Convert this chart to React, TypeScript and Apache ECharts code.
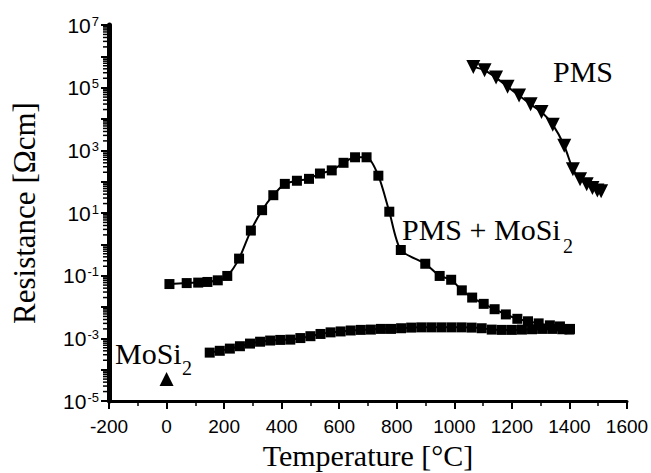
import React, { useEffect, useRef } from "react";
import * as echarts from "echarts";

// ---- data ----
const mixTemp = [10, 70, 110, 142, 178, 211, 252, 293, 332, 371, 411, 453, 495, 533, 574, 615, 655, 695, 736, 774, 814, 899, 949, 989, 1026, 1062, 1102, 1140, 1179, 1219, 1256, 1293, 1332, 1367, 1402];
const mixRes = [0.054, 0.058, 0.06, 0.063, 0.071, 0.098, 0.35, 2.75, 12.3, 37, 85, 107, 123, 182, 229, 400, 600, 600, 155, 11, 0.66, 0.24, 0.098, 0.074, 0.034, 0.02, 0.0126, 0.0085, 0.0058, 0.0042, 0.0035, 0.003, 0.0026, 0.0024, 0.002];

const mosiTemp = [150, 185, 220, 255, 290, 325, 360, 395, 430, 465, 500, 535, 570, 605, 640, 675, 710, 745, 780, 815, 850, 885, 920, 955, 990, 1025, 1060, 1095, 1130, 1165, 1200, 1235, 1270, 1305, 1340, 1375, 1400];
const mosiRes = [3.5e-4, 4.0e-4, 4.7e-4, 5.6e-4, 6.8e-4, 7.8e-4, 8.5e-4, 8.9e-4, 9.1e-4, 1.02e-3, 1.17e-3, 1.38e-3, 1.55e-3, 1.66e-3, 1.78e-3, 1.86e-3, 1.9e-3, 2.0e-3, 2.0e-3, 2.1e-3, 2.2e-3, 2.24e-3, 2.24e-3, 2.24e-3, 2.24e-3, 2.24e-3, 2.2e-3, 2.1e-3, 1.9e-3, 1.86e-3, 1.86e-3, 1.9e-3, 1.95e-3, 2.0e-3, 2.0e-3, 1.95e-3, 1.9e-3];

const pmsTemp = [1066, 1105, 1145, 1185, 1225, 1265, 1303, 1342, 1382, 1412, 1437, 1460, 1480, 1497, 1510];
const pmsRes = [4.6e5, 3.6e5, 2.1e5, 1.07e5, 5.6e4, 2.95e4, 1.66e4, 6.6e3, 1.4e3, 250, 120, 83, 63, 52, 49];

const singleTemp = [0];
const singleRes = [5e-5];

const xTicks = { min: -200, max: 1600, interval: 200 };
const yRange = { min: 1e-5, max: 1e7 };

const SERIF = "'Liberation Serif', 'Times New Roman', serif";
const SANS = "'Liberation Sans', Arial, sans-serif";

export default function App() {
  const ref = useRef<HTMLDivElement>(null);
  useEffect(() => {
    if (!ref.current) return;
    const chart = echarts.init(ref.current, null, { renderer: "svg" });

    const minorLogTicks: number[][] = [];
    for (let e = -5; e < 7; e++) {
      for (let m = 2; m <= 9; m++) minorLogTicks.push([xTicks.min, m * Math.pow(10, e)]);
    }

    const zip = (a: number[], b: number[]) => a.map((x, i) => [x, b[i]]);
    const labelStyle = { fontFamily: SERIF, fontSize: 30, fill: "#000" };
    const subStyle = { fontFamily: SERIF, fontSize: 20, fill: "#000" };

    const option: any = {
      animation: false,
      backgroundColor: "#fff",
      grid: { left: 109, right: 24, top: 25, bottom: 72, containLabel: false, outerBoundsMode: "none" },
      xAxis: {
        type: "value",
        min: xTicks.min,
        max: xTicks.max,
        interval: xTicks.interval,
        name: "Temperature [°C]",
        nameLocation: "middle",
        nameGap: 28,
        nameTextStyle: { fontFamily: SERIF, fontSize: 30, color: "#000" },
        axisLine: { onZero: false, lineStyle: { color: "#000", width: 3 } },
        axisTick: { inside: false, length: 8, lineStyle: { color: "#000", width: 2 } },
        minorTick: { show: true, splitNumber: 2, length: 5, lineStyle: { color: "#000", width: 1.5 } },
        splitLine: { show: false },
        axisLabel: {
          fontFamily: SANS,
          fontSize: 19,
          color: "#000",
          margin: 16,
          formatter: (v: number) => String(v),
        },
      },
      yAxis: {
        type: "log",
        logBase: 10,
        min: yRange.min,
        max: yRange.max,
        interval: 1,
        splitNumber: 12,
        name: "Resistance [Ωcm]",
        nameLocation: "middle",
        nameGap: 69,
        nameTextStyle: { fontFamily: SERIF, fontSize: 31, color: "#000" },
        axisLine: { onZero: false, lineStyle: { color: "#000", width: 5 } },
        axisTick: { inside: false, length: 8, lineStyle: { color: "#000", width: 2 } },
        splitLine: { show: false },
        axisLabel: {
          margin: 10,
          color: "#000",
          formatter: (v: number) => {
            const e = Math.round(Math.log10(v));
            if (((e + 5) % 2 + 2) % 2 !== 0) return "";
            return "{b|10}{s|" + e + "}";
          },
          rich: {
            b: { fontFamily: SANS, fontSize: 21, color: "#000", verticalAlign: "bottom" },
            s: { fontFamily: SANS, fontSize: 13, color: "#000", verticalAlign: "top", padding: [0, 0, 0, 1] },
          },
        },
      },
      series: [
        {
          type: "custom",
          silent: true,
          clip: false,
          z: 1,
          data: minorLogTicks,
          renderItem: (params: any, api: any) => {
            const p = api.coord([api.value(0), api.value(1)]);
            return {
              type: "line",
              shape: { x1: p[0] - 2, y1: p[1], x2: p[0] - 6, y2: p[1] },
              style: { stroke: "#000", lineWidth: 1.5 },
            };
          },
        },
        {
          name: "PMS + MoSi2",
          type: "line",
          data: zip(mixTemp, mixRes),
          smooth: 0.25,
          symbol: "rect",
          symbolSize: 10,
          itemStyle: { color: "#000", opacity: 1 },
          lineStyle: { color: "#000", width: 2 },
          z: 3,
        },
        {
          name: "MoSi2 composite",
          type: "line",
          data: zip(mosiTemp, mosiRes),
          smooth: 0.25,
          symbol: "rect",
          symbolSize: 10,
          itemStyle: { color: "#000", opacity: 1 },
          lineStyle: { color: "#000", width: 2 },
          z: 3,
        },
        {
          name: "PMS",
          type: "line",
          data: zip(pmsTemp, pmsRes),
          smooth: 0.25,
          symbol: "triangle",
          symbolRotate: 180,
          symbolSize: 14,
          itemStyle: { color: "#000", opacity: 1 },
          lineStyle: { color: "#000", width: 2 },
          z: 3,
        },
        {
          name: "MoSi2",
          type: "scatter",
          data: zip(singleTemp, singleRes),
          symbol: "triangle",
          symbolSize: 14,
          itemStyle: { color: "#000", opacity: 1 },
          z: 3,
        },
      ],
      graphic: [
        { type: "text", left: 553, top: 56, style: { text: "PMS", ...labelStyle } },
        { type: "text", left: 402, top: 214, style: { text: "PMS + MoSi", ...labelStyle } },
        { type: "text", left: 563, top: 236, style: { text: "2", ...subStyle } },
        { type: "text", left: 115, top: 338, style: { text: "MoSi", ...labelStyle } },
        { type: "text", left: 182, top: 358, style: { text: "2", ...subStyle } },
      ],
    };
    chart.setOption(option);
    return () => chart.dispose();
  }, []);
  return (
    <div
      ref={ref}
      style={{ position: "fixed", left: 0, top: 0, width: 651, height: 473, background: "#fff" }}
    />
  );
}
